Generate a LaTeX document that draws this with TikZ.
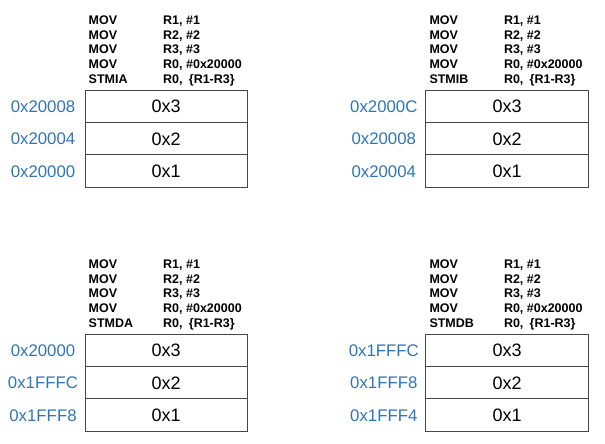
\documentclass[tikz,border=0pt]{standalone}
\usepackage{fontspec}
\setmainfont{Liberation Sans}
\definecolor{addrblue}{RGB}{46,117,182}
\definecolor{boxline}{RGB}{70,70,70}
\tikzset{
  cell/.style={draw=boxline, line width=1pt, outer sep=0pt, inner sep=0pt,
    minimum width=162.5pt, minimum height=32.4pt,
    font=\fontsize{18}{18}\selectfont, text height=12.9pt, text depth=0pt},
  addr/.style={text=addrblue, inner sep=0pt,
    font=\fontsize{16.8}{16.8}\selectfont, text height=12pt, text depth=0pt},
  code/.style={anchor=base west, inner sep=0pt,
    font=\bfseries\fontsize{12.5}{12.5}\selectfont},
}
% #1 name, #2 box left, #3 box top, #4 store mnemonic,
% #5 #6 #7 addresses of the top, middle and bottom words
\newcommand\stmpanel[7]{%
  \node[cell, anchor=north west] (#1w3) at (#2,#3) {0x3};
  \node[cell, anchor=north] (#1w2) at (#1w3.south) {0x2};
  \node[cell, anchor=north] (#1w1) at (#1w2.south) {0x1};
  \node[addr] (#1a3) at ({#2-42},{#3+16.2}) {#5};
  \node[addr] (#1a2) at ({#2-42},{#3+48.6}) {#6};
  \node[addr] (#1a1) at ({#2-42},{#3+81.0}) {#7};
  \foreach \op/\arg [count=\i] in {MOV/{R1, \#1}, MOV/{R2, \#2}, MOV/{R3, \#3},
      MOV/{R0, \#0x20000}, #4/{R0,\enspace\{R1-R3\}}} {
    \node[code] (#1op\i) at ({#2+3.5},{#3-65.5+14.7*(\i-1)}) {\op};
    \node[code] (#1arg\i) at ({#2+78},{#3-65.5+14.7*(\i-1)}) {\arg};
  }%
}
\begin{document}
\begin{tikzpicture}[x=1pt, y=-1pt]
  \useasboundingbox (0,0) rectangle (605,444);
  \stmpanel{ia}{85}{90}{STMIA}{0x20008}{0x20004}{0x20000}
  \stmpanel{ib}{425.8}{90}{STMIB}{0x2000C}{0x20008}{0x20004}
  \stmpanel{da}{85}{334}{STMDA}{0x20000}{0x1FFFC}{0x1FFF8}
  \stmpanel{db}{425.8}{334}{STMDB}{0x1FFFC}{0x1FFF8}{0x1FFF4}
\end{tikzpicture}
\end{document}
